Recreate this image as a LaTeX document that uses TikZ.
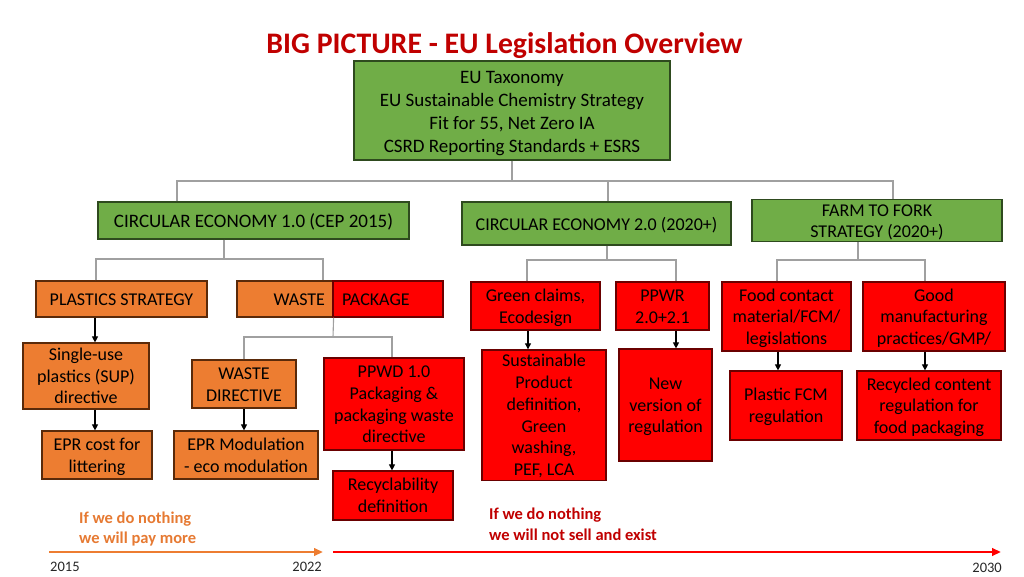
\documentclass[tikz,border=0pt]{standalone}
\usepackage{fontspec}
\setmainfont{Carlito}
\usetikzlibrary{arrows.meta}
\definecolor{gfill}{HTML}{70AD47}
\definecolor{gdraw}{HTML}{2E4A1E}
\definecolor{ofill}{HTML}{ED7D31}
\definecolor{odraw}{HTML}{5A2A0A}
\definecolor{rfill}{HTML}{FF0000}
\definecolor{rdraw}{HTML}{6A0000}
\definecolor{titlered}{HTML}{C00000}
\definecolor{otext}{HTML}{E67A33}
\definecolor{conngray}{HTML}{A0A0A0}
\newcommand\setmystrut[2]{\setbox\strutbox\hbox{\vrule height #1pt depth #2pt width 0pt}}
\newcommand\mlt[1]{\begin{tabular}{@{}c@{}}#1\end{tabular}}
\tikzset{
  box/.style={draw, line width=1.2pt, inner sep=0pt, text=black},
  gbox/.style={box, fill=gfill, draw=gdraw, font=\fontsize{19}{23}\selectfont\setmystrut{18.5}{4.5}},
  gboxs/.style={box, fill=gfill, draw=gdraw, font=\fontsize{18}{21}\selectfont\setmystrut{17.0}{4.0}},
  obox/.style={box, fill=ofill, draw=odraw, font=\fontsize{18}{21.7}\selectfont\setmystrut{17.05}{4.65}},
  rbox/.style={box, fill=rfill, draw=rdraw, font=\fontsize{18}{21.7}\selectfont\setmystrut{17.05}{4.65}},
  conn/.style={draw=conngray, line width=1.1pt},
  arr/.style={draw=black, line width=1.1pt, -{Triangle[length=6pt,width=6pt]}},
  tline/.style={line width=2.3pt, -{Triangle[length=9pt,width=7.5pt]}},
  yearlbl/.style={inner sep=0pt, text=black!85, font=\fontsize{14.5}{17}\selectfont},
  warn/.style={inner sep=0pt, align=left, font=\bfseries\fontsize{16.5}{20.5}\selectfont}
}
\begin{document}
\begin{tikzpicture}[x=1pt,y=-1pt]
\useasboundingbox (0,0) rectangle (1024,576);

% title
\node[anchor=base, inner sep=0pt, text=titlered, font=\bfseries\fontsize{29.8}{35}\selectfont] (title) at (504.5,53) {BIG PICTURE - EU Legislation Overview};

% level 0
\node[gbox, minimum width=316pt, minimum height=99pt] (top) at (512,110.5)
  {\mlt{EU Taxonomy\\EU Sustainable Chemistry Strategy\\Fit for 55, Net Zero IA\\CSRD Reporting Standards + ESRS}};

% level 1
\node[gbox, minimum width=311pt, minimum height=37pt] (ce1) at (253.5,220.5) {\mlt{CIRCULAR ECONOMY 1.0 (CEP 2015)}};
\node[gboxs, minimum width=269pt, minimum height=43pt] (ce2) at (596.5,223.5) {\mlt{CIRCULAR ECONOMY 2.0 (2020+)}};
\node[gboxs, minimum width=250pt, minimum height=37pt] (farm) at (877,220.5) {\mlt{FARM TO FORK\\STRATEGY (2020+)}};

% level 2
\node[obox, minimum width=171pt, minimum height=36pt] (plastics) at (121.5,299) {\mlt{PLASTICS STRATEGY}};
\node[obox, minimum width=96pt, minimum height=36pt, inner xsep=8pt, text width=80pt, align=right] (waste) at (285,299) {\mlt{WASTE}};
\node[rbox, minimum width=110pt, minimum height=36pt, inner xsep=9pt, text width=92pt, align=left] (package) at (388,299) {\mlt{PACKAGE}};
\node[rbox, minimum width=129pt, minimum height=48pt] (green) at (535.5,306) {\mlt{Green claims,\\Ecodesign}};
\node[rbox, minimum width=93pt, minimum height=48pt] (ppwr) at (662.5,306) {\mlt{PPWR\\2.0+2.1}};
\node[rbox, minimum width=129pt, minimum height=69pt] (food) at (786.5,316.5) {\mlt{Food contact\\material/FCM/\\legislations}};
\node[rbox, minimum width=142pt, minimum height=69pt] (good) at (934,316.5) {\mlt{Good\\manufacturing\\practices/GMP/}};

% level 3
\node[obox, minimum width=126pt, minimum height=66pt] (sup) at (86,376) {\mlt{Single-use\\plastics (SUP)\\directive}};
\node[obox, minimum width=104pt, minimum height=48pt] (wastedir) at (244,384) {\mlt{WASTE\\DIRECTIVE}};
\node[rbox, minimum width=140pt, minimum height=92pt] (ppwd) at (394,404) {\mlt{PPWD 1.0\\Packaging \&\\packaging waste\\directive}};
\node[rbox, minimum width=124pt, minimum height=128pt] (sust) at (544,415) {\mlt{Sustainable\\Product\\definition,\\Green\\washing,\\PEF, LCA}};
\node[rbox, minimum width=93pt, minimum height=112pt] (newver) at (665.5,405) {\mlt{New\\version of\\regulation}};
\node[rbox, minimum width=112pt, minimum height=69pt] (plfcm) at (786,405.5) {\mlt{Plastic FCM\\regulation}};
\node[rbox, minimum width=144pt, minimum height=69pt] (recont) at (929,405.5) {\mlt{Recycled content\\regulation for\\food packaging}};

% level 4
\node[obox, minimum width=110pt, minimum height=48pt] (eprcost) at (97,455) {\mlt{EPR cost for\\littering}};
\node[obox, minimum width=144pt, minimum height=48pt] (eprmod) at (246,455) {\mlt{EPR Modulation\\- eco modulation}};
\node[rbox, minimum width=120pt, minimum height=49pt] (recyc) at (393,495.5) {\mlt{Recyclability\\definition}};

% tree connectors
\coordinate (b0) at (512,181);
\draw[conn] (top.south) -- (b0);
\draw[conn] (ce1.north -| 177,0) |- (b0) -| (farm.north -| 893,0);
\draw[conn] (b0 -| 608,0) -- (ce2.north -| 608,0);

\coordinate (b1) at (224,259);
\draw[conn] (ce1.south -| b1) -- (b1);
\draw[conn] (plastics.north -| 96,0) |- (b1) -| (waste.north -| 323,0);

\coordinate (b2) at (607,260);
\draw[conn] (ce2.south -| b2) -- (b2);
\draw[conn] (green.north -| 527,0) |- (b2) -| (ppwr.north -| 676,0);

\coordinate (b3) at (858,260);
\draw[conn] (farm.south -| b3) -- (b3);
\draw[conn] (food.north -| 777,0) |- (b3) -| (good.north -| 925,0);

\coordinate (b4) at (333,337);
\draw[conn] (waste.south east) -- (b4);
\draw[conn] (wastedir.north -| 244,0) |- (b4) -| (ppwd.north -| 392,0);

% arrows
\draw[arr] (plastics.south -| 95,0) -- (sup.north -| 95,0);
\draw[arr] (sup.south -| 95,0) -- (eprcost.north -| 95,0);
\draw[arr] (wastedir.south -| 244,0) -- (eprmod.north -| 244,0);
\draw[arr] (ppwd.south -| 392,0) -- (recyc.north -| 392,0);
\draw[arr] (green.south -| 528,0) -- (sust.north -| 528,0);
\draw[arr] (ppwr.south -| 676,0) -- (newver.north -| 676,0);
\draw[arr] (food.south -| 778,0) -- (plfcm.north -| 778,0);
\draw[arr] (good.south -| 925,0) -- (recont.north -| 925,0);

% timeline
\coordinate (t0) at (49,552);
\coordinate (t1) at (323,552);
\coordinate (t2) at (333,552);
\coordinate (t3) at (1001,552);
\draw[tline, draw=ofill, color=ofill] (t0) -- (t1);
\draw[tline, draw=rfill, color=rfill] (t2) -- (t3);

\node[yearlbl, anchor=west] (y15) at (50,567) {2015};
\node[yearlbl, anchor=east] (y22) at (322,567) {2022};
\node[yearlbl, anchor=east] (y30) at (1002,568) {2030};

\node[warn, anchor=west, text=otext] (pay) at (79,529) {If we do nothing\\we will pay more};
\node[warn, anchor=west, text=titlered] (sell) at (489,524.5) {If we do nothing\\we will not sell and exist};
\end{tikzpicture}
\end{document}
